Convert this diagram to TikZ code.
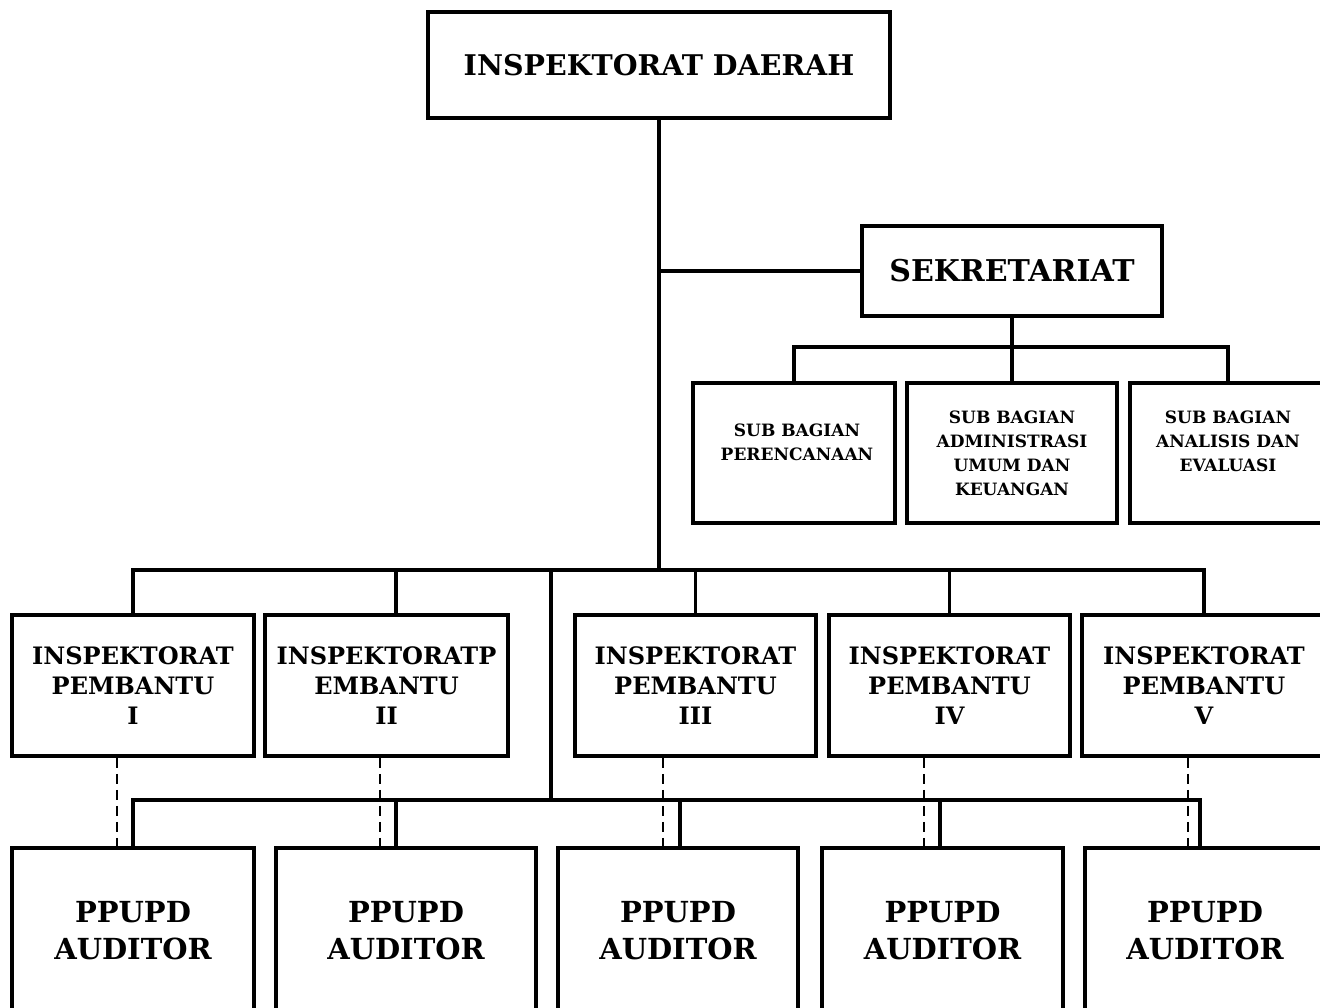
\documentclass[tikz,border=0pt]{standalone}
\usepackage{fontspec}
\setmainfont{DejaVu Serif}
\begin{document}
\begin{tikzpicture}[x=1pt,y=-1pt,
  box/.style={draw,line width=3.5pt,rectangle,inner sep=0pt,align=center},
  conn/.style={line width=3.5pt},
  dsh/.style={line width=2.5pt,dash pattern=on 10pt off 6pt},
  ftop/.style={font=\bfseries\fontsize{28.5}{34}\selectfont},
  fsek/.style={font=\bfseries\fontsize{30}{36}\selectfont},
  fsub/.style={font=\bfseries\fontsize{17}{24}\selectfont},
  fip/.style={font=\bfseries\fontsize{24}{30}\selectfont},
  faud/.style={font=\bfseries\fontsize{29}{37}\selectfont}]
\useasboundingbox (0,0) rectangle (1320,1008);
\clip (0,0) rectangle (1320,1008);
\fill[white] (0,0) rectangle (1320,1008);

% top
\node[box,ftop,minimum width=462,minimum height=106] (top) at (659,65) {INSPEKTORAT DAERAH};
% sekretariat
\node[box,fsek,minimum width=300,minimum height=90] (sek) at (1012,271) {SEKRETARIAT};
% sub bagian
\node[box,minimum width=202,minimum height=140] (s1) at (794,453) {};
\node[box,minimum width=210,minimum height=140] (s2) at (1012,453) {};
\node[box,minimum width=196,minimum height=140] (s3) at (1228,453) {};
\node[fsub,align=center] (s1t) at (797,442) {SUB BAGIAN\\PERENCANAAN};
\node[fsub,align=center] (s2t) at (1012,453) {SUB BAGIAN\\ADMINISTRASI\\UMUM DAN\\KEUANGAN};
\node[fsub,align=center] (s3t) at (1228,441) {SUB BAGIAN\\ANALISIS DAN\\EVALUASI};
% inspektorat pembantu
\node[box,fip,minimum width=242,minimum height=141] (ip1) at (133,685.5) {INSPEKTORAT\\PEMBANTU\\I};
\node[box,fip,minimum width=243,minimum height=141] (ip2) at (386.5,685.5) {INSPEKTORATP\\EMBANTU\\II};
\node[box,fip,minimum width=241,minimum height=141] (ip3) at (695.5,685.5) {INSPEKTORAT\\PEMBANTU\\III};
\node[box,fip,minimum width=241,minimum height=141] (ip4) at (949.5,685.5) {INSPEKTORAT\\PEMBANTU\\IV};
\node[box,fip,minimum width=244,minimum height=141] (ip5) at (1204,685.5) {INSPEKTORAT\\PEMBANTU\\V};
% auditors
\node[box,faud,minimum width=242,minimum height=166] (a1) at (133,931) {PPUPD\\AUDITOR};
\node[box,faud,minimum width=260,minimum height=166] (a2) at (406,931) {PPUPD\\AUDITOR};
\node[box,faud,minimum width=240,minimum height=166] (a3) at (678,931) {PPUPD\\AUDITOR};
\node[box,faud,minimum width=241,minimum height=166] (a4) at (942.5,931) {PPUPD\\AUDITOR};
\node[box,faud,minimum width=240,minimum height=166] (a5) at (1205,931) {PPUPD\\AUDITOR};

% junctions
\coordinate (j0) at (658,570);
\coordinate (sj) at (1008,347);
\coordinate (m1) at (551,570);
\coordinate (m2) at (551,800);

% trunk and sekretariat branch
\draw[conn] (top.south) -- (top.south |- j0);
\draw[conn] (top.south |- sek.west) -- (sek.west);
\draw[conn] (sek.south) -- (s2.north);
\draw[conn] (s1.north) -- (s1.north |- sj) -- (s3.north |- sj) -- (s3.north);

% inspektorat pembantu bus
\draw[conn] (ip1.north) -- (ip1.north |- j0) -- (ip5.north |- j0) -- (ip5.north);
\draw[conn] ([xshift=9.5]ip2.north) -- ([xshift=9.5]ip2.north |- j0);
\draw[conn] (ip3.north) -- (ip3.north |- j0);
\draw[conn] (ip4.north) -- (ip4.north |- j0);

% auditor bus
\draw[conn] (m1) -- (m2);
\draw[conn] (a1.north) -- (a1.north |- m2) -- ([xshift=-5]a5.north |- m2) -- ([xshift=-5]a5.north);
\draw[conn] ([xshift=-10]a2.north) -- ([xshift=-10]a2.north |- m2);
\draw[conn] ([xshift=2]a3.north) -- ([xshift=2]a3.north |- m2);
\draw[conn] ([xshift=-2.5]a4.north) -- ([xshift=-2.5]a4.north |- m2);

% dashed links
\draw[dsh] ([xshift=-16]ip1.south) -- ([xshift=-16]ip1.south |- a1.north);
\draw[dsh] ([xshift=-6.5]ip2.south) -- ([xshift=-6.5]ip2.south |- a2.north);
\draw[dsh] ([xshift=-32.5]ip3.south) -- ([xshift=-32.5]ip3.south |- a3.north);
\draw[dsh] ([xshift=-25.5]ip4.south) -- ([xshift=-25.5]ip4.south |- a4.north);
\draw[dsh] ([xshift=-16]ip5.south) -- ([xshift=-16]ip5.south |- a5.north);
\end{tikzpicture}
\end{document}
